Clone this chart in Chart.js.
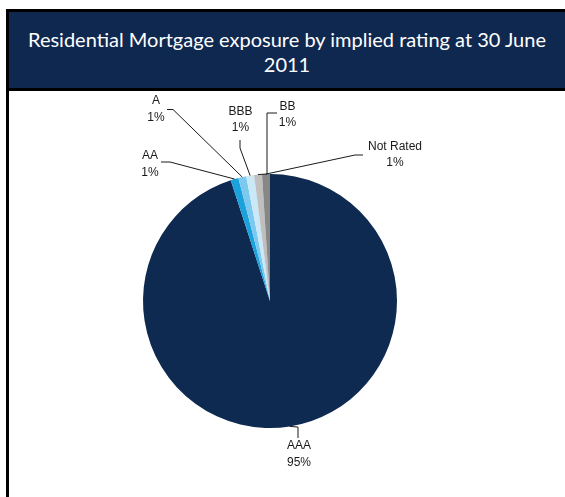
<!DOCTYPE html>
<html>
<head>
<meta charset="utf-8">
<script src="https://cdn.jsdelivr.net/npm/chart.js@4"></script>
<style>
    html, body { margin: 0; padding: 0; background: #fff; }
    body { width: 565px; height: 497px; position: relative; overflow: hidden; }
    .frame {
        position: absolute; left: 6px; top: 9px; width: 600px; height: 520px;
        border-left: 3px solid #000; border-top: 3px solid #000;
    }
    .title {
        position: absolute; left: 0; top: 0; width: 556px; height: 79px;
        background: #0F2850; border-bottom: 3px solid #000;
        color: #fff; font-family: 'Lato', 'Open Sans', sans-serif; font-size: 20px;
        line-height: 25px; text-align: center; padding-top: 15px; box-sizing: border-box;
    }
    #pie { position: absolute; left: 0; top: 0; }
</style>
</head>
<body>
<div class="frame">
    <div class="title">Residential Mortgage exposure by implied rating at 30 June<br>2011</div>
</div>
<canvas id="pie" width="565" height="497"></canvas>
<script>
// exposure share by rating, in percent
const ratings = ['AAA', 'AA', 'A', 'BBB', 'BB', 'Not Rated'];
const shares = [95, 1, 1, 1, 1, 1];
const sliceColors = ['#0E2A50', '#1BA1DC', '#7BC9EE', '#CAE8F6', '#BFBFBF', '#878787'];

// label placement relative to the pie centre: text centre, first line middle, leader elbows
const labelLayout = [
    { dx: 29, dy: 145, path: [[28, 126], [28, 137]] },
    { dx: -120, dy: -145, path: [[-100, -139], [-109, -139]] },
    { dx: -114, dy: -200, path: [[-97, -191.5], [-103, -191.5]] },
    { dx: -29.5, dy: -189.5, path: [[-30, -153], [-30, -161]] },
    { dx: 17.5, dy: -194.5, path: [[-3, -127], [-3, -188], [7, -188]] },
    { dx: 125, dy: -154.5, path: [[85, -146], [93, -146]] }
];

const leaderLabels = {
    id: 'leaderLabels',
    afterDraw(chart) {
        const ctx = chart.ctx;
        const meta = chart.getDatasetMeta(0);
        ctx.save();
        ctx.strokeStyle = '#1a1a1a';
        ctx.lineWidth = 1;
        ctx.fillStyle = '#1a1a1a';
        ctx.font = '12px "Liberation Sans", Arial, sans-serif';
        ctx.textAlign = 'center';
        ctx.textBaseline = 'middle';
        meta.data.forEach((arc, i) => {
            const p = arc.getProps(['x', 'y', 'startAngle', 'endAngle', 'outerRadius'], true);
            const mid = (p.startAngle + p.endAngle) / 2;
            const ax = p.x + Math.cos(mid) * p.outerRadius;
            const ay = p.y + Math.sin(mid) * p.outerRadius;
            const lay = labelLayout[i];

            ctx.beginPath();
            ctx.moveTo(ax, ay);
            lay.path.forEach(pt => ctx.lineTo(p.x + pt[0], p.y + pt[1]));
            ctx.stroke();

            const tx = p.x + lay.dx;
            const ty = p.y + lay.dy;
            ctx.fillText(ratings[i], tx, ty);
            ctx.fillText(shares[i] + '%', tx, ty + 16.5);
        });
        ctx.restore();
    }
};

new Chart(document.getElementById('pie').getContext('2d'), {
    type: 'pie',
    data: {
        labels: ratings,
        datasets: [{
            data: shares,
            backgroundColor: sliceColors,
            borderWidth: 0
        }]
    },
    options: {
        responsive: false,
        animation: false,
        layout: { padding: { left: 143, right: 168, top: 174, bottom: 69 } },
        plugins: {
            legend: { display: false },
            tooltip: { enabled: false }
        }
    },
    plugins: [leaderLabels]
});
</script>
</body>
</html>
